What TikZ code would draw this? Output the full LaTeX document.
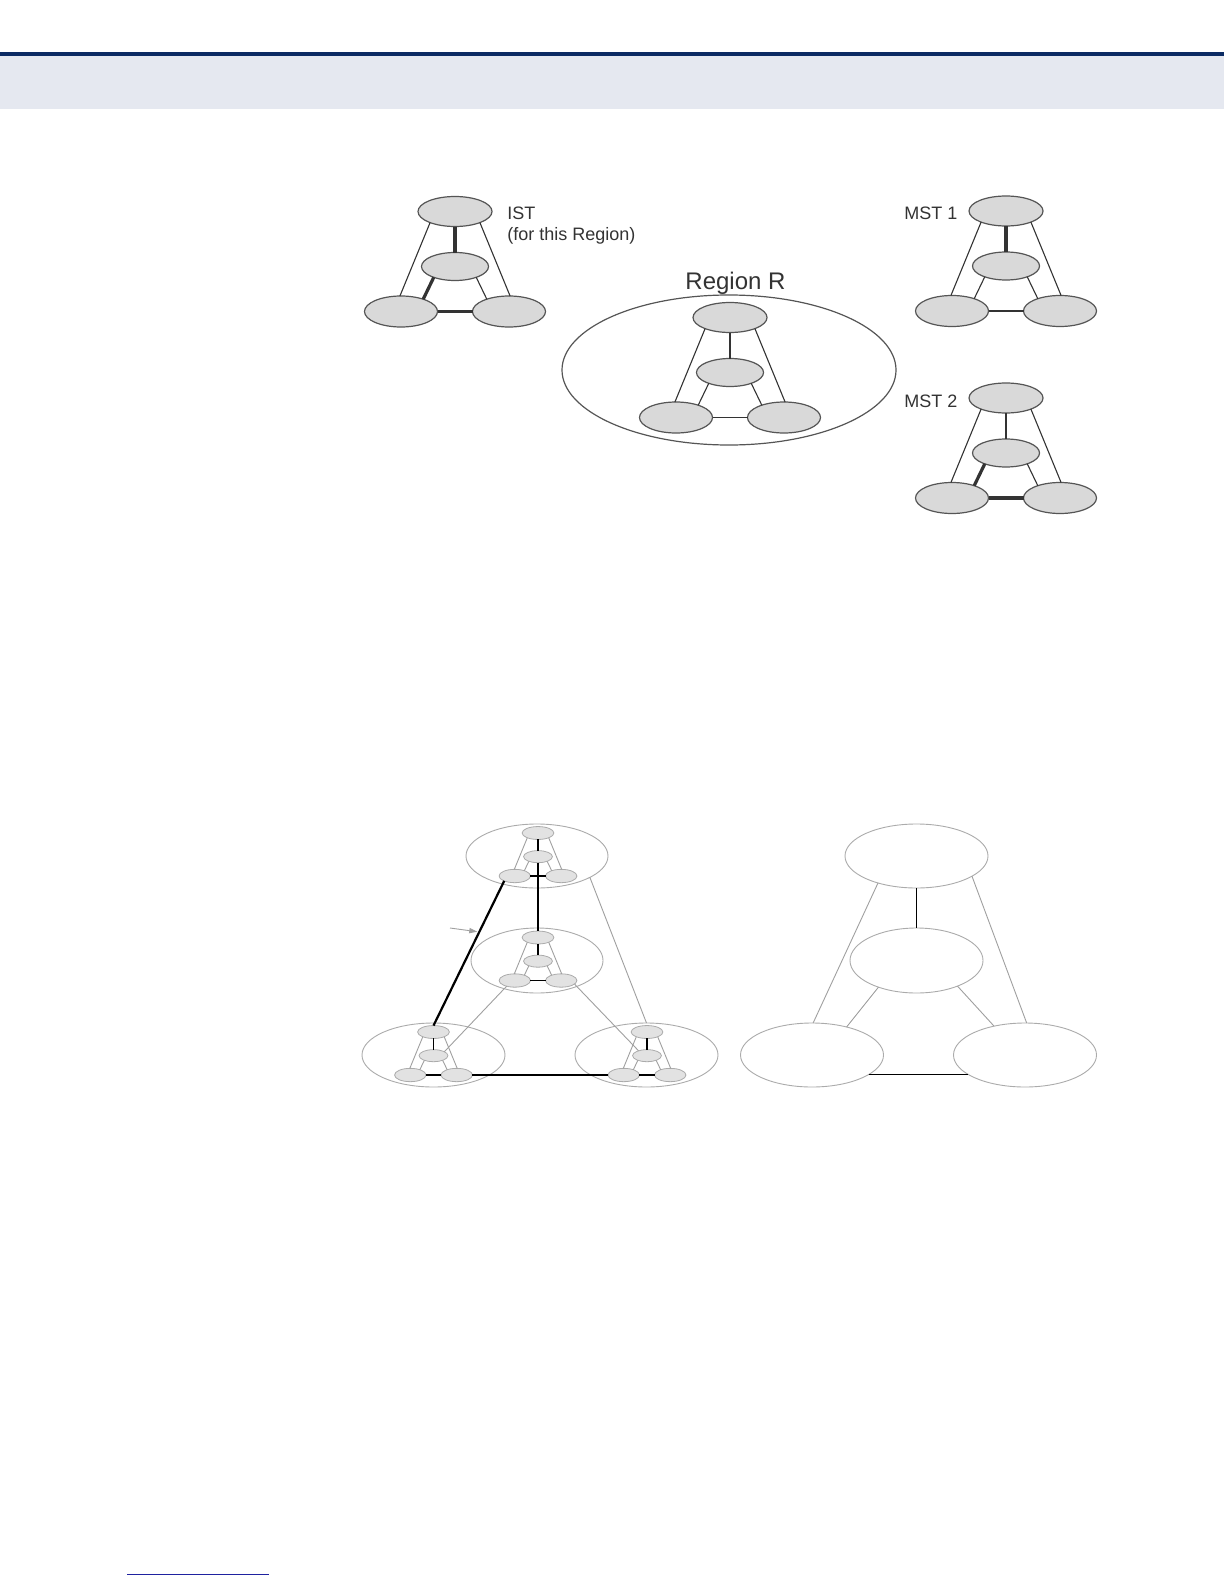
\documentclass[tikz,border=0pt]{standalone}
\usepackage{fontspec}
\setmainfont{Liberation Sans}
\usetikzlibrary{shapes.geometric,arrows.meta}
\definecolor{navy}{HTML}{0B2A63}
\definecolor{band}{HTML}{E5E8F0}
\definecolor{ulblue}{HTML}{1F22A0}
\definecolor{nodefill}{HTML}{D9D9D9}
\definecolor{nodeline}{HTML}{555555}
\definecolor{ink}{HTML}{333333}
\definecolor{minifill}{HTML}{E2E2E2}
\definecolor{miniline}{HTML}{ABABAB}
\definecolor{greyline}{HTML}{A0A0A0}
\tikzset{
 bignode/.style={ellipse, draw=nodeline, fill=nodefill, line width=0.6pt, inner sep=0pt, outer sep=0pt},
 mininode/.style={ellipse, draw=miniline, fill=minifill, line width=0.4pt, inner sep=0pt, outer sep=0pt},
 regionell/.style={ellipse, draw=miniline, line width=0.45pt, inner sep=0pt, outer sep=0pt},
 bigregion/.style={ellipse, draw=nodeline, line width=0.6pt, inner sep=0pt, outer sep=0pt},
 thinlink/.style={draw=ink, line width=0.55pt},
 thicklink/.style={draw=ink, line width=1.6pt},
 blacklink/.style={draw=black, line width=0.65pt},
 heavylink/.style={draw=black, line width=1.1pt},
 greylink/.style={draw=greyline, line width=0.45pt},
 txt/.style={font=\fontsize{9}{10.5}\selectfont, text=ink, inner sep=0pt, align=left},
}
% #1 name, #2 position of top node, #3 scale, #4 node style,
% #5 top-middle, #6 outer legs, #7 middle-left, #8 middle-right, #9 left-right
\newcommand{\trio}[9]{%
\begin{scope}[shift={(#2)}]
\node[#4, minimum width={#3*37pt}, minimum height={#3*15pt}] (#1T) at (0,0) {};
\node[#4, minimum width={#3*33.5pt}, minimum height={#3*14pt}] (#1M) at (0,{55*#3}) {};
\node[#4, minimum width={#3*36.5pt}, minimum height={#3*15.5pt}] (#1L) at ({-54*#3},{100*#3}) {};
\node[#4, minimum width={#3*36.5pt}, minimum height={#3*15.5pt}] (#1R) at ({54*#3},{100*#3}) {};
\end{scope}
\draw[#5] (#1T.south) -- (#1M.north);
\draw[#6] (#1T.204) -- (#1L.94);
\draw[#6] (#1T.336) -- (#1R.86);
\draw[#7] (#1M.207) -- (#1L.29);
\draw[#8] (#1M.333) -- (#1R.151);
\draw[#9] (#1L.east) -- (#1R.west);
}
\begin{document}
\begin{tikzpicture}[x=0.5pt,y=-0.5pt]
\useasboundingbox (0,0) rectangle (1224,1584);
\fill[white] (0,0) rectangle (1224,1584);
% header
\fill[navy] (0,52) rectangle (1224,56);
\fill[band] (0,56) rectangle (1224,109);
% footer rule
\draw[ulblue, line width=0.7pt] (127,1574.5) -- (269,1574.5);

% ---------- upper figure ----------
\trio{ist}{455,211.5}{1}{bignode}{thicklink}{thinlink}{thicklink}{thinlink}{thicklink}
\node[txt, anchor=north west] (istlabel) at (507,207) {IST\\(for this Region)};

\node[bigregion, minimum width=167pt, minimum height=75pt] (regionR) at (729,370) {};
\trio{rr}{730,317.5}{1}{bignode}{thinlink}{thinlink}{thinlink}{thinlink}{thinlink}
\node[txt, font=\fontsize{12}{14}\selectfont, anchor=base] (regionlabel) at (735.5,289) {Region R};

\trio{ma}{1006,211}{1}{bignode}{thicklink}{thinlink}{thinlink}{thinlink}{thinlink}
\node[txt, anchor=base west] (mst1label) at (904,219.3) {MST 1};

\trio{mb}{1006,398}{1}{bignode}{thinlink}{thinlink}{thicklink}{thinlink}{thicklink}
\node[txt, anchor=base west] (mst2label) at (904,407.3) {MST 2};

% ---------- lower left figure ----------
\node[regionell, minimum width=71pt, minimum height=32pt] (RTop) at (537,856) {};
\node[regionell, minimum width=66pt, minimum height=32.5pt] (RMid) at (537,960.5) {};
\node[regionell, minimum width=71.5pt, minimum height=32pt] (RBL) at (433.5,1055) {};
\node[regionell, minimum width=71.5pt, minimum height=32pt] (RBR) at (646.5,1055) {};

\trio{pa}{538,833}{0.43}{mininode}{blacklink}{greylink}{greylink}{greylink}{blacklink}
\trio{pb}{538,937.5}{0.43}{mininode}{blacklink}{greylink}{greylink}{greylink}{blacklink}
\trio{pc}{433.5,1032}{0.43}{mininode}{blacklink}{greylink}{greylink}{greylink}{blacklink}
\trio{pd}{647,1032}{0.43}{mininode}{blacklink}{greylink}{greylink}{greylink}{blacklink}

\draw[heavylink] (paL.205) -- coordinate[pos=0.353] (hit) (pcT.north);
\draw[heavylink] (paM.south) -- (pbT.north);
\draw[greylink] (RTop.338) -- (RBR.north);
\draw[greylink] (pbL.215) -- (pcM.20);
\draw[greylink] (pbR.345) -- (pdM.150);
\draw[blacklink] (pcR.east) -- (pdL.west);

\coordinate (pointer) at (450,928);
\draw[greylink, -{Stealth[length=4pt,width=2.6pt,inset=0pt]}, shorten >=1pt] (pointer) -- (hit);

% ---------- lower right figure ----------
\node[regionell, minimum width=71.5pt, minimum height=32pt] (A) at (916.5,856) {};
\node[regionell, minimum width=66.5pt, minimum height=32.5pt] (B) at (916.5,960.5) {};
\node[regionell, minimum width=71.5pt, minimum height=32pt] (C) at (812,1055) {};
\node[regionell, minimum width=71.5pt, minimum height=32pt] (D) at (1025,1055) {};

\draw[blacklink] (A.south) -- (B.north);
\draw[greylink] (A.215) -- (C.88);
\draw[greylink] (A.340) -- (D.87);
\draw[greylink] (B.215.5) -- (C.39);
\draw[greylink] (B.328.5) -- (D.137);
\draw[blacklink] (C.341) -- (D.199);
\end{tikzpicture}
\end{document}
